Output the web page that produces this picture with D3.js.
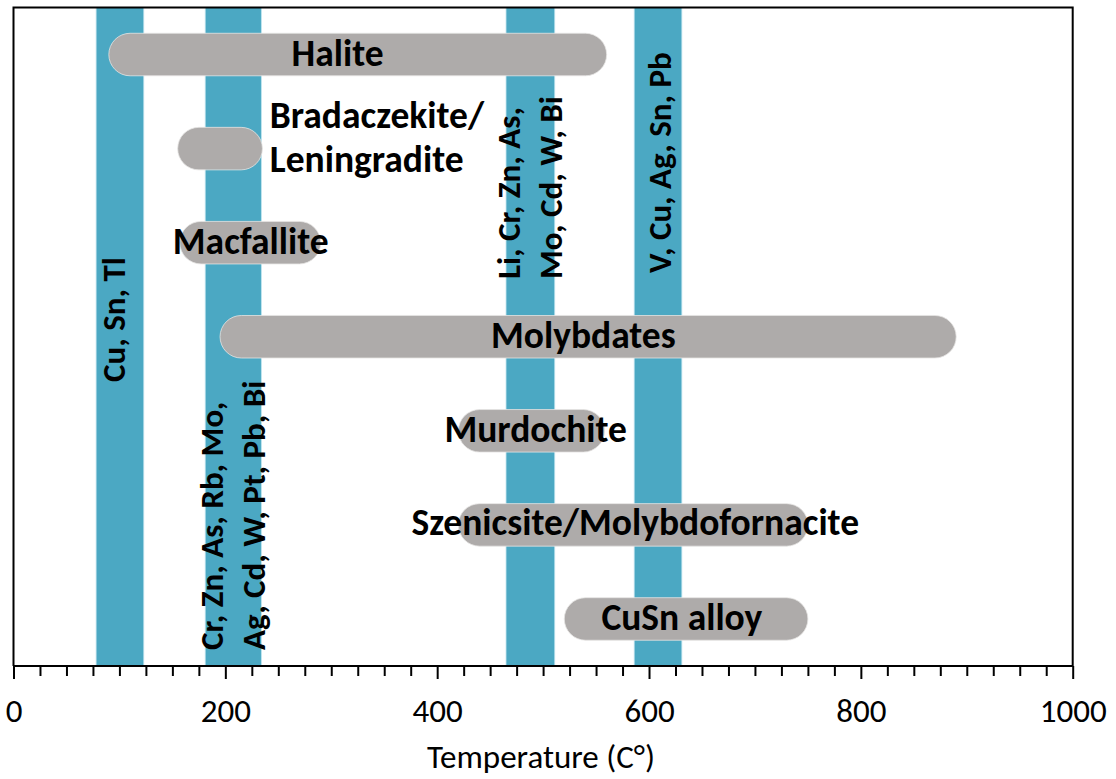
<!DOCTYPE html>
<html>
<head>
<meta charset="utf-8">
<script src="https://cdn.jsdelivr.net/npm/d3@7"></script>
<style>
  html, body { margin: 0; padding: 0; background: #fff; }
  svg { display: block; }
  text { font-family: Carlito, Calibri, "Open Sans", sans-serif; }
</style>
</head>
<body>
<svg id="chart" width="1116" height="779"></svg>
<script>
// ---- data ----
// temperature windows (vertical bands) and their element labels
const bandNames   = ["Cu, Sn, Tl", "Cr, Zn, As, Rb, Mo, / Ag, Cd, W, Pt, Pb, Bi", "Li, Cr, Zn, As, / Mo, Cd, W, Bi", "V, Cu, Ag, Sn, Pb"];
const bandStart   = [78, 181, 465, 586];
const bandEnd     = [123, 234, 511, 631];

// mineral phases (horizontal ranges)
const phases      = ["Halite", "Bradaczekite/Leningradite", "Macfallite", "Molybdates", "Murdochite", "Szenicsite/Molybdofornacite", "CuSn alloy"];
const phaseStart  = [90, 155, 157, 195, 420, 420, 520];
const phaseEnd    = [560, 235, 290, 890, 558, 750, 750];

// axis
const xDomain     = [0, 1000];
const majorTicks  = [0, 200, 400, 600, 800, 1000];
const minorStep   = 25;
const xTitle      = "Temperature (C°)";

// ---- layout ----
const plot = { left: 13.5, right: 1072.7, top: 7.5, bottom: 666 };
const blue = "#4BA8C3", gray = "#AEABAA";
const labelFont = 37.5, bandFont = 33, tickFont = 33;

const svg = d3.select("#chart");
const x = d3.scaleLinear().domain(xDomain).range([plot.left, plot.right]);
const y = d3.scaleBand().domain(phases).range([plot.top, plot.bottom])
  .paddingInner(0.548).paddingOuter(0.274);

// vertical bands
svg.append("g").selectAll("rect").data(bandNames).join("rect")
  .attr("x", (d, i) => x(bandStart[i]))
  .attr("width", (d, i) => x(bandEnd[i]) - x(bandStart[i]))
  .attr("y", plot.top)
  .attr("height", plot.bottom - plot.top)
  .attr("fill", blue)
  .attr("stroke", "#bfe3ee").attr("stroke-width", 0.8);

// phase pills
svg.append("g").selectAll("rect").data(phases).join("rect")
  .attr("x", (d, i) => x(phaseStart[i]))
  .attr("width", (d, i) => x(phaseEnd[i]) - x(phaseStart[i]))
  .attr("y", d => y(d))
  .attr("height", y.bandwidth())
  .attr("rx", y.bandwidth() / 2).attr("ry", y.bandwidth() / 2)
  .attr("fill", gray)
  .attr("stroke", "#e6e4e3").attr("stroke-width", 0.8);

// frame (top, left, right)
svg.append("path")
  .attr("d", `M${plot.left},${plot.bottom}V${plot.top}H${plot.right}V${plot.bottom}`)
  .attr("fill", "none").attr("stroke", "#000").attr("stroke-width", 2);

// axis
const minorTicks = d3.range(xDomain[0], xDomain[1] + minorStep / 2, minorStep)
  .filter(v => !majorTicks.includes(v));
const axMinor = svg.append("g").attr("transform", `translate(0,${plot.bottom})`)
  .call(d3.axisBottom(x).tickValues(minorTicks).tickSize(10).tickFormat(""));
const axMajor = svg.append("g").attr("transform", `translate(0,${plot.bottom})`)
  .call(d3.axisBottom(x).tickValues(majorTicks).tickSize(13).tickPadding(19.5).tickFormat(d3.format("d")));
[axMinor, axMajor].forEach(g => {
  g.selectAll("line").attr("stroke", "#000").attr("stroke-width", 2);
  g.select(".domain").attr("stroke", "#000").attr("stroke-width", 2)
    .attr("d", `M${plot.left},0H${plot.right}`);
});
axMajor.selectAll("text").attr("font-size", tickFont).attr("fill", "#000")
  .attr("font-family", "Carlito, Calibri, 'Open Sans', sans-serif");

const titleCenter = 498; // °C under which the axis title is centred
svg.append("text")
  .attr("x", x(titleCenter))
  .attr("y", 768)
  .attr("text-anchor", "middle")
  .attr("font-size", tickFont)
  .text(xTitle);

// vertical band labels (baseline x in °C, start y px, lines)
const bandLabelLayout = [
  { lines: ["Cu, Sn, Tl"], bx: [105], y0: 382 },
  { lines: ["Cr, Zn, As, Rb, Mo,", "Ag, Cd, W, Pt, Pb, Bi"], bx: [197.5, 237.5], y0: 650 },
  { lines: ["Li, Cr, Zn, As,", "Mo, Cd, W, Bi"], bx: [478, 518], y0: 279 },
  { lines: ["V, Cu, Ag, Sn, Pb"], bx: [620.5], y0: 273 }
];
const vg = svg.append("g");
bandLabelLayout.forEach(L => {
  L.lines.forEach((t, j) => {
    vg.append("text")
      .attr("transform", `translate(${x(L.bx[j])},${L.y0}) rotate(-90)`)
      .attr("font-size", bandFont).attr("font-weight", 700)
      .text(t);
  });
});

// phase labels
const phaseLabelLayout = [
  { phase: "Halite", lines: ["Halite"], tx: 306, anchor: "middle", dy: [11.5] },
  { phase: "Bradaczekite/Leningradite", lines: ["Bradaczekite/", "Leningradite"], tx: 242, anchor: "start", dy: [-20.5, 23.5] },
  { phase: "Macfallite", lines: ["Macfallite"], tx: 224, anchor: "middle", dy: [11.5] },
  { phase: "Molybdates", lines: ["Molybdates"], tx: 538, anchor: "middle", dy: [11.5] },
  { phase: "Murdochite", lines: ["Murdochite"], tx: 493, anchor: "middle", dy: [11.5] },
  { phase: "Szenicsite/Molybdofornacite", lines: ["Szenicsite/Molybdofornacite"], tx: 587, anchor: "middle", dy: [10.5] },
  { phase: "CuSn alloy", lines: ["CuSn alloy"], tx: 631, anchor: "middle", dy: [11.5] }
];
const pg = svg.append("g");
phaseLabelLayout.forEach(L => {
  const cy = y(L.phase) + y.bandwidth() / 2;
  L.lines.forEach((t, j) => {
    pg.append("text")
      .attr("x", x(L.tx)).attr("y", cy + L.dy[j])
      .attr("text-anchor", L.anchor)
      .attr("font-size", labelFont).attr("font-weight", 700)
      .text(t);
  });
});
</script>
</body>
</html>
